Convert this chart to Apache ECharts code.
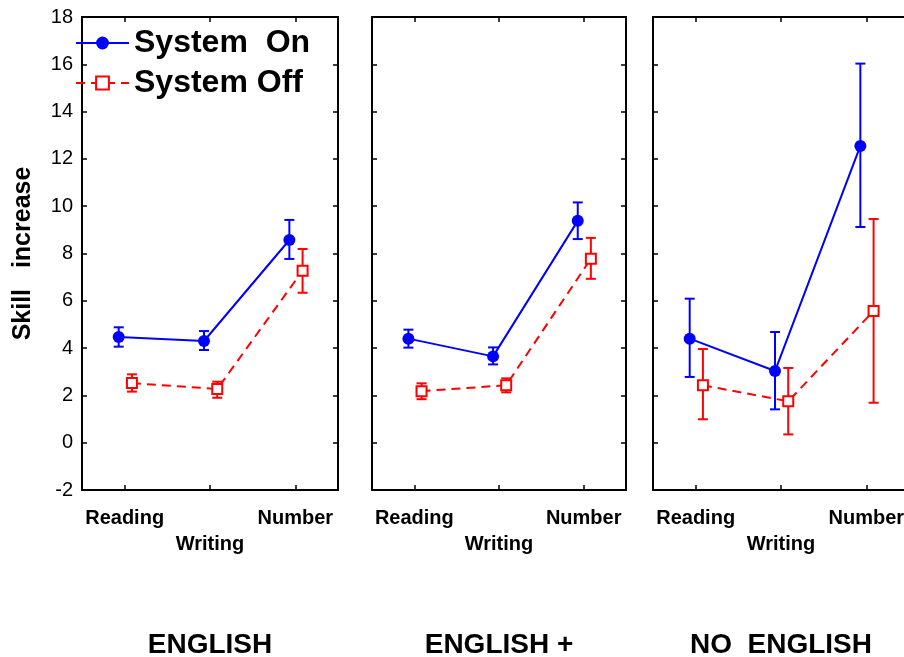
<!DOCTYPE html>
<html><head><meta charset="utf-8">
<script src="https://cdn.jsdelivr.net/npm/echarts@6/dist/echarts.min.js"></script>
<style>html,body{margin:0;padding:0;background:#fff}#c{width:904px;height:657px}</style>
</head><body><div id="c"></div>
<script>
// ---- data ----
const categories = ['Reading', 'Writing', 'Number'];
const panelTitles = ['ENGLISH', 'ENGLISH +', 'NO  ENGLISH'];
const seriesNames = ['System  On', 'System Off'];
const yMin = -2, yMax = 18, yStep = 2;

const englishOnMean  = [4.47, 4.30, 8.57];
const englishOnLow   = [4.06, 3.92, 7.77];
const englishOnHigh  = [4.88, 4.72, 9.42];
const englishOffMean = [2.52, 2.27, 7.27];
const englishOffLow  = [2.16, 1.90, 6.34];
const englishOffHigh = [2.89, 2.58, 8.19];

const plusOnMean  = [4.40, 3.65, 9.38];
const plusOnLow   = [4.02, 3.31, 8.61];
const plusOnHigh  = [4.78, 4.03, 10.16];
const plusOffMean = [2.18, 2.43, 7.78];
const plusOffLow  = [1.84, 2.13, 6.93];
const plusOffHigh = [2.51, 2.72, 8.66];

const noOnMean  = [4.40, 3.03, 12.55];
const noOnLow   = [2.78, 1.41, 9.12];
const noOnHigh  = [6.09, 4.68, 16.03];
const noOffMean = [2.43, 1.75, 5.57];
const noOffLow  = [0.99, 0.35, 1.69];
const noOffHigh = [3.96, 3.16, 9.46];

const panels = [
  {on: [englishOnMean, englishOnLow, englishOnHigh], off: [englishOffMean, englishOffLow, englishOffHigh]},
  {on: [plusOnMean, plusOnLow, plusOnHigh], off: [plusOffMean, plusOffLow, plusOffHigh]},
  {on: [noOnMean, noOnLow, noOnHigh], off: [noOffMean, noOffLow, noOffHigh]}
];

// ---- layout / style ----
const FONT = '"Liberation Sans", Arial, sans-serif';
const grids = [
  {left: 82, top: 17, width: 256, height: 473},
  {left: 372, top: 17, width: 254, height: 473},
  {left: 653, top: 17, width: 256, height: 473}
];
const ON_SHIFT = -0.07, OFF_SHIFT = 0.085; // horizontal dodge in category units
const BLUE = '#0000ff', RED = '#ff0000';
const axisLineStyle = {color: '#000', width: 2};
const tickStyle = {show: true, inside: true, length: 5, lineStyle: {color: '#000', width: 1.5}};

function renderErr(params, api) {
  const x = api.value(0), lo = api.value(1), hi = api.value(2);
  const p1 = api.coord([x, lo]), p2 = api.coord([x, hi]);
  const w = 5;
  const style = {stroke: api.visual('color'), lineWidth: 2};
  return {type: 'group', children: [
    {type: 'line', shape: {x1: p1[0], y1: p1[1], x2: p2[0], y2: p2[1]}, style: style},
    {type: 'line', shape: {x1: p1[0] - w, y1: p1[1], x2: p1[0] + w, y2: p1[1]}, style: style},
    {type: 'line', shape: {x1: p2[0] - w, y1: p2[1], x2: p2[0] + w, y2: p2[1]}, style: style}
  ]};
}

const xAxis = [], yAxis = [], series = [];
grids.forEach(function (g, gi) {
  xAxis.push({
    gridIndex: gi, type: 'category', data: categories, position: 'bottom', boundaryGap: true,
    axisLine: {onZero: false, lineStyle: axisLineStyle}, axisTick: Object.assign({alignWithLabel: true}, tickStyle),
    axisLabel: {interval: 0, margin: 15, fontSize: 20, fontWeight: 'bold', color: '#000', fontFamily: FONT,
      lineHeight: 26, formatter: function (v, i) { return i === 1 ? '\n' + v : v; }},
    name: panelTitles[gi], nameLocation: 'middle', nameGap: 141,
    nameTextStyle: {fontSize: 28, fontWeight: 'bold', color: '#000', fontFamily: FONT},
    splitLine: {show: false}
  });
  xAxis.push({
    gridIndex: gi, type: 'category', data: categories, position: 'top', boundaryGap: true,
    axisLine: {onZero: false, lineStyle: axisLineStyle}, axisTick: Object.assign({alignWithLabel: true}, tickStyle),
    axisLabel: {show: false}, splitLine: {show: false}
  });
  xAxis.push({gridIndex: gi, type: 'value', min: 0, max: 3, show: false});
  yAxis.push({
    gridIndex: gi, type: 'value', min: yMin, max: yMax, interval: yStep, position: 'left',
    axisLine: {show: true, onZero: false, lineStyle: axisLineStyle}, axisTick: tickStyle,
    axisLabel: {show: gi === 0, fontSize: 20, color: '#000', fontFamily: FONT, margin: 9},
    splitLine: {show: false},
    name: gi === 0 ? 'Skill   increase' : '', nameLocation: 'middle', nameGap: 46, nameRotate: 90,
    nameTextStyle: {fontSize: 25, fontWeight: 'bold', color: '#000', fontFamily: FONT}
  });
  yAxis.push({
    gridIndex: gi, type: 'value', min: yMin, max: yMax, interval: yStep, position: 'right',
    axisLine: {show: true, onZero: false, lineStyle: axisLineStyle}, axisTick: tickStyle,
    axisLabel: {show: false}, splitLine: {show: false}
  });

  const p = panels[gi];
  [[p.on, ON_SHIFT, BLUE, 0], [p.off, OFF_SHIFT, RED, 1]].forEach(function (s) {
    const arr = s[0], shift = s[1], col = s[2], k = s[3];
    const pts = categories.map(function (c, i) { return [i + 0.5 + shift, arr[0][i]]; });
    const errs = categories.map(function (c, i) { return [i + 0.5 + shift, arr[1][i], arr[2][i]]; });
    series.push({
      type: 'custom', name: 'err' + gi + k, xAxisIndex: gi * 3 + 2, yAxisIndex: gi * 2,
      renderItem: renderErr, data: errs, itemStyle: {color: col}, z: 2, silent: true
    });
    series.push({
      type: 'line', name: seriesNames[k], xAxisIndex: gi * 3 + 2, yAxisIndex: gi * 2,
      data: pts, color: col,
      symbol: k === 0 ? 'circle' : 'rect', symbolSize: k === 0 ? 12 : 10,
      lineStyle: {color: col, width: 2, type: k === 0 ? 'solid' : [9, 6]},
      itemStyle: k === 0 ? {color: col} : {color: '#fff', borderColor: col, borderWidth: 2},
      z: 3, animation: false, silent: true
    });
  });
});

const chart = echarts.init(document.getElementById('c'), null, {renderer: 'canvas'});
chart.setOption({
  animation: false,
  backgroundColor: '#fff',
  grid: grids.map(function (g) { return Object.assign({containLabel: false, outerBoundsMode: 'none'}, g); }),
  xAxis: xAxis, yAxis: yAxis, series: series,
  legend: {
    data: seriesNames, orient: 'vertical', left: 75, top: 23, padding: 0, itemGap: 0,
    itemWidth: 53, itemHeight: 16, selectedMode: false,
    textStyle: {fontSize: 32, fontWeight: 'bold', color: '#000', fontFamily: FONT, lineHeight: 40}
  }
});
</script></body></html>
